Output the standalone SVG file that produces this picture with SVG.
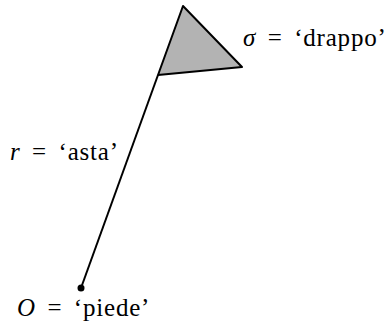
<svg xmlns="http://www.w3.org/2000/svg" width="391" height="330" viewBox="0 0 391 330">
<style>
text{font-family:"Liberation Serif","DejaVu Serif",serif;font-size:25px;letter-spacing:0.8px;word-spacing:4.5px;fill:#000}
.v{font-style:italic}
.ln{stroke:#000;stroke-width:2;fill:none;stroke-linejoin:round}
</style>
<rect width="391" height="330" fill="#fff"/>
<g id="drappo">
<polygon points="183,6 242,67 158,75" fill="#b3b3b3" stroke="#000" stroke-width="2" stroke-linejoin="round"/>
<text x="243" y="46"><tspan class="v">σ</tspan> = ‘drappo’</text>
</g>
<g id="connectors">
<line class="ln" x1="81" y1="288" x2="158" y2="75"/>
</g>
<g id="asta">
<text x="10" y="160"><tspan class="v">r</tspan> = ‘asta’</text>
</g>
<g id="piede">
<circle cx="81" cy="288" r="3.5" fill="#000"/>
<text x="17" y="316"><tspan class="v">O</tspan> = ‘piede’</text>
</g>
</svg>
